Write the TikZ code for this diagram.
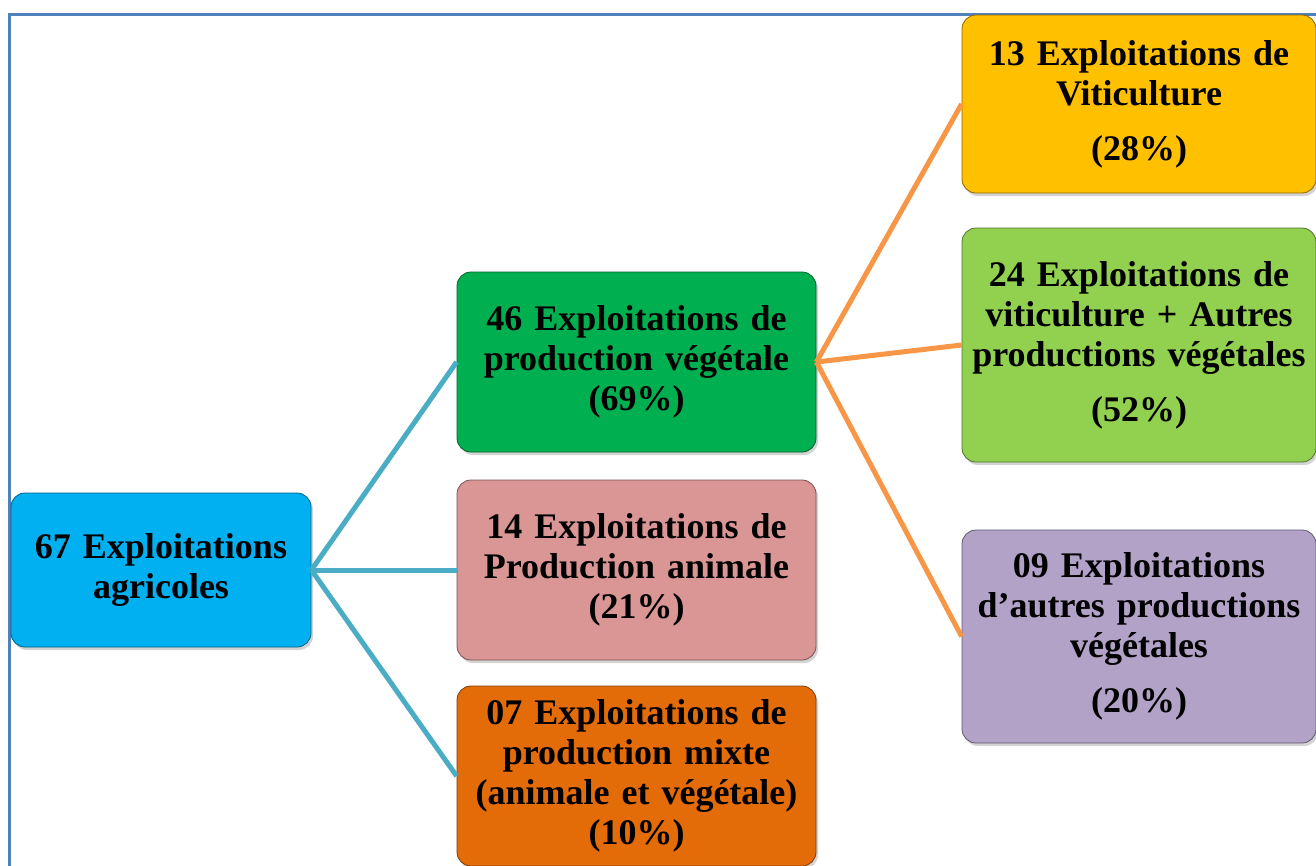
\documentclass[tikz,border=0pt]{standalone}
\usepackage{fontspec}
\setmainfont{Liberation Serif}
\usetikzlibrary{shapes,shadows}
\usetikzlibrary{positioning}

\definecolor{cadre}{HTML}{4F81BD}
\definecolor{bleuc}{HTML}{00B0F0}
\definecolor{vertf}{HTML}{00B050}
\definecolor{rose}{HTML}{D99694}
\definecolor{orangef}{HTML}{E36C09}
\definecolor{or}{HTML}{FFC000}
\definecolor{vertc}{HTML}{92D050}
\definecolor{mauve}{HTML}{B3A2C7}
\definecolor{lienbleu}{HTML}{4BACC6}
\definecolor{lienorange}{HTML}{F79646}

\begin{document}
\begin{tikzpicture}[x=1pt,y=-1pt,
    bloc/.style={draw=#1!55!black, fill=#1, line width=.8pt, rounded corners=14pt,
        drop shadow={shadow xshift=2pt,shadow yshift=-3pt,opacity=.35},
        align=center, inner sep=2pt,
        font=\fontsize{36}{40}\selectfont\bfseries},
    lien/.style={draw=#1, line width=5pt}]
    \useasboundingbox (0,0) rectangle (1316,865);
    \clip (0,0) rectangle (1316,865);
    \draw[cadre, line width=3pt] (9,14) rectangle (1340,890);

    % premier niveau
    \node[bloc=bleuc, minimum width=300pt, minimum height=154pt, text width=296pt]
        (racine) at (161,570) {67 Exploitations\\agricoles};

    % deuxieme niveau
    \node[bloc=vertf, minimum width=359pt, minimum height=180pt, text width=355pt]
        (vege) at (636.5,362) {46 Exploitations de\\production végétale\\(69\%)};
    \node[bloc=rose, minimum width=359pt, minimum height=180pt, text width=355pt]
        (anim) at (636.5,570) {14 Exploitations de\\Production animale\\(21\%)};
    \node[bloc=orangef, minimum width=359pt, minimum height=180pt, text width=355pt]
        (mixte) at (636.5,776) {07 Exploitations de\\production mixte\\(animale et végétale)\\(10\%)};

    % troisieme niveau
    \node[bloc=or, minimum width=354pt, minimum height=178pt, text width=350pt]
        (viti) at (1139,104) {13 Exploitations de\\Viticulture\\[15pt](28\%)};
    \node[bloc=vertc, minimum width=354pt, minimum height=234pt, text width=350pt]
        (vitiautre) at (1139,345) {24 Exploitations de\\viticulture + Autres\\productions végétales\\[15pt](52\%)};
    \node[bloc=mauve, minimum width=354pt, minimum height=213pt, text width=350pt]
        (autre) at (1139,636.5) {09 Exploitations\\d’autres productions\\végétales\\[15pt](20\%)};

    % liens
    \foreach \n in {vege,anim,mixte}
        \draw[lien=lienbleu] (racine.east) -- (\n.west);
    \foreach \n in {viti,vitiautre,autre}
        \draw[lien=lienorange] (vege.east) -- (\n.west);
\end{tikzpicture}
\end{document}
